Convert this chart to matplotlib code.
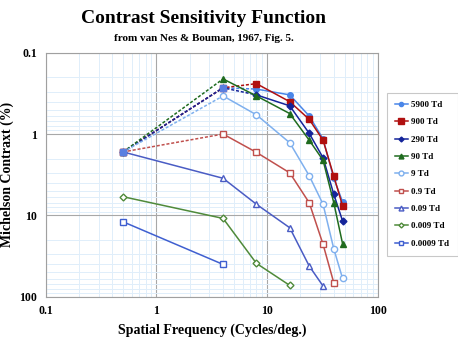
import matplotlib.pyplot as plt
import numpy as np

freq_hi = [0.5, 4, 8, 16, 24, 32, 40, 48]
freq_lo = [0.5, 4, 8, 16, 24, 32, 40]

labels = ["5900 Td", "900 Td", "290 Td", "90 Td", "9 Td",
          "0.9 Td", "0.09 Td", "0.009 Td", "0.0009 Td"]

c_5900 = [1.66, 0.27, 0.28, 0.33, 0.60, 1.15, 3.5, 6.8]
c_900 = [1.66, 0.27, 0.24, 0.40, 0.66, 1.19, 3.3, 7.6]
c_290 = [1.66, 0.27, 0.33, 0.45, 0.98, 1.96, 5.5, 11.7]
c_90 = [1.66, 0.21, 0.34, 0.56, 1.19, 2.1, 7.0, 22.3]
c_9 = [1.66, 0.34, 0.58, 1.28, 3.26, 7.3, 25.8, 59.6]
c_09 = [1.66, 1.0, 1.68, 3.0, 7.0, 22.7, 67.5]
c_009 = [1.66, 3.5, 7.3, 14.2, 42.0, 74.0]
c_0009 = [5.9, 10.9, 38.9, 72.6]
c_00009 = [12.0, 40.1]

freqs = [freq_hi, freq_hi, freq_hi, freq_hi, freq_hi, freq_lo,
         freq_lo[:6], freq_lo[:4], freq_lo[:2]]
values = [c_5900, c_900, c_290, c_90, c_9, c_09, c_009, c_0009, c_00009]
# how many leading segments are drawn dashed
n_dashed = [2, 2, 2, 1, 1, 1, 0, 0, 0]

# shared points at 0.5 and 4 c/deg (blue square marker)
junction_freq = [0.5, 4]
junction_contrast = [1.66, 0.27]

colors = ["#4a86e8", "#b01010", "#14249a", "#1f6b1f", "#7fb0ee",
          "#c0504d", "#4a5cc4", "#4f8a3a", "#3f5fd0"]
markers = ["o", "s", "D", "^", "o", "s", "^", "D", "s"]
filled = [True, True, True, True, False, False, False, False, False]
msizes = [4, 5, 3.5, 4.5, 4.5, 4.5, 4.5, 3.5, 4.5]

plt.rcParams['font.family'] = ['Liberation Serif', 'DejaVu Serif']
plt.rcParams['font.weight'] = 'bold'

fig = plt.figure(figsize=(4.58, 3.39), dpi=100)
ax = fig.add_axes([0.0998, 0.1248, 0.7252, 0.7197])

for i in range(len(labels)):
    x = np.array(freqs[i])
    y = np.array(values[i])
    k = n_dashed[i]
    col = colors[i]
    if k > 0:
        ax.plot(x[:k + 1], y[:k + 1], color=col, lw=1.1, ls=(0, (2, 1.2)))
    ax.plot(x[k:], y[k:], color=col, lw=1.1)
    mfc = col if filled[i] else "white"
    ax.plot(x, y, ls="none", color=col, marker=markers[i],
            ms=msizes[i], mfc=mfc, mec=col, mew=1.0)

ax.plot(junction_freq, junction_contrast, ls="none", marker="s", ms=5,
        mfc="#5a7fe0", mec="#5a7fe0", zorder=5)

ax.set_xscale("log")
ax.set_yscale("log")
ax.set_xlim(0.1, 100)
ax.set_ylim(100, 0.1)
ax.set_xticks([0.1, 1, 10, 100])
ax.set_xticklabels(["0.1", "1", "10", "100"])
ax.set_yticks([0.1, 1, 10, 100])
ax.set_yticklabels(["0.1", "1", "10", "100"])
ax.tick_params(which="both", length=0, labelsize=8.5, pad=6)
ax.minorticks_on()
ax.tick_params(which="minor", length=0)
ax.grid(True, which="minor", color="#e0eefa", lw=0.7)
ax.grid(True, which="major", color="#a8a8a8", lw=0.8)
ax.set_axisbelow(True)
for s in ax.spines.values():
    s.set_color("#a0a0a0")

ax.set_xlabel("Spatial Frequency (Cycles/deg.)", fontsize=10, fontweight="bold", labelpad=5)
ax.set_ylabel("Michelson Contraxt (%)", fontsize=10, fontweight="bold", labelpad=4)

fig.text(0.445, 0.945, "Contrast Sensitivity Function", ha="center", va="center",
         fontsize=14, fontweight="bold")
fig.text(0.445, 0.885, "from van Nes & Bouman, 1967, Fig. 5.", ha="center", va="center",
         fontsize=8, fontweight="bold")

leg_handles = []
for i in range(len(labels)):
    mfc = colors[i] if filled[i] else "white"
    lh, = ax.plot([], [], color=colors[i], lw=1.1, marker=markers[i], ms=msizes[i] - 1,
                  mfc=mfc, mec=colors[i])
    leg_handles.append(lh)
leg = fig.legend(leg_handles, labels, loc="upper left", bbox_to_anchor=(0.845, 0.727),
                 frameon=True, fancybox=False, edgecolor="#bbbbbb",
                 handlelength=1.4, handletextpad=0.4, labelspacing=1.0,
                 borderpad=0.9, borderaxespad=0,
                 prop={"weight": "bold", "size": 6.5})
leg.get_frame().set_linewidth(0.8)

fig.savefig("out.png", dpi=100)
